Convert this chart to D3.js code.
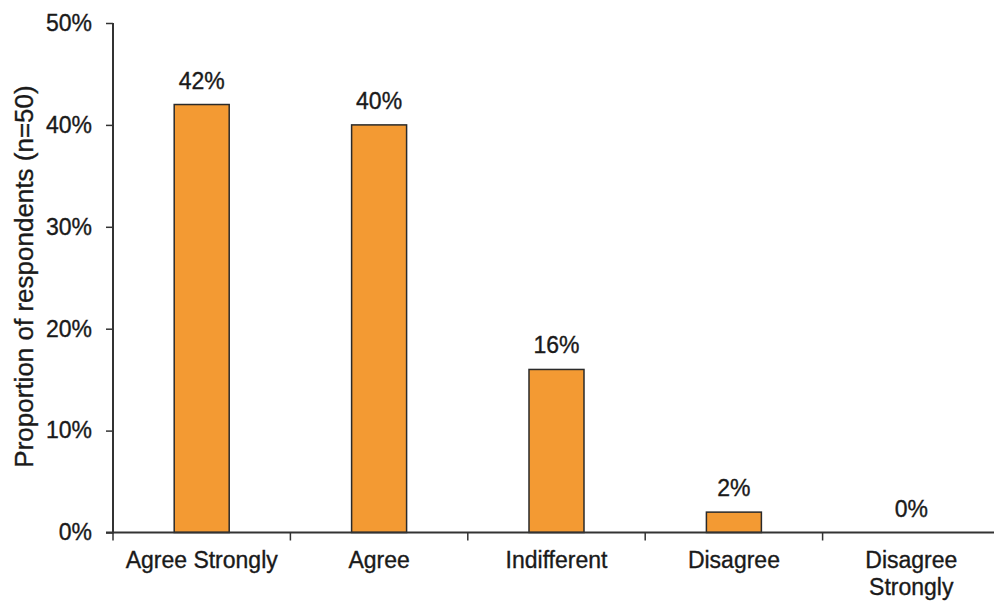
<!DOCTYPE html>
<html>
<head>
<meta charset="utf-8">
<script src="https://cdn.jsdelivr.net/npm/d3@7"></script>
<style>
  html, body { margin: 0; padding: 0; background: #fff; }
  svg { display: block; font-family: "Liberation Sans", Arial, Helvetica, sans-serif; }
  svg text { stroke: #1a1a1a; stroke-width: 0.35px; }
</style>
</head>
<body>
<svg id="chart" width="994" height="601"></svg>
<script>
// Survey responses, share of respondents (%)
const categories = ["Agree Strongly", "Agree", "Indifferent", "Disagree", "Disagree Strongly"];
const categoryLines = [["Agree Strongly"], ["Agree"], ["Indifferent"], ["Disagree"], ["Disagree", "Strongly"]];
const values = [42, 40, 16, 2, 0];
const yTicks = [0, 10, 20, 30, 40, 50];
const yTitle = "Proportion of respondents (n=50)";

const svg = d3.select("#chart");
const plotLeft = 113, plotRight = 1000, plotTop = 23, plotBottom = 532.5;
const ink = "#1a1a1a";
const axisColor = "#333";

const x = d3.scaleBand()
  .domain(categories)
  .range([plotLeft, plotRight])
  .paddingInner(0.69)
  .paddingOuter(0.345);

const y = d3.scaleLinear().domain([0, 50]).range([plotBottom, plotTop]);

const rows = categories.map((c, i) => ({ c, v: values[i] }));

// Bars
svg.append("g").selectAll("rect")
  .data(rows.filter(d => d.v > 0))
  .join("rect")
  .attr("x", d => x(d.c))
  .attr("y", d => y(d.v))
  .attr("width", x.bandwidth())
  .attr("height", d => y(0) - y(d.v))
  .attr("fill", "#F39A33")
  .attr("stroke", "#2a2a2a")
  .attr("stroke-width", 1.5);

// Value labels
svg.append("g").selectAll("text")
  .data(rows)
  .join("text")
  .attr("x", d => x(d.c) + x.bandwidth() / 2)
  .attr("y", d => y(d.v) - 16)
  .attr("text-anchor", "middle")
  .attr("font-size", 23)
  .attr("fill", ink)
  .text(d => d.v + "%");

// Y axis
const yAxis = svg.append("g")
  .attr("transform", `translate(${plotLeft},0)`)
  .call(d3.axisLeft(y).tickValues(yTicks).tickFormat(d => d + "%").tickSize(7).tickPadding(14));
yAxis.select(".domain").attr("stroke", axisColor).attr("stroke-width", 2)
  .attr("d", `M0,${plotTop}V${plotBottom + 1}`);
yAxis.selectAll(".tick line").attr("stroke", axisColor).attr("stroke-width", 1.5);
yAxis.selectAll(".tick text")
  .attr("font-size", 23)
  .attr("fill", ink)
  .attr("font-family", "Liberation Sans, Arial, sans-serif");

// X axis baseline with ticks at category boundaries
const step = x.step();
const boundaries = categories.map(c => x(c) + x.bandwidth() / 2 - step / 2);
const xAxis = svg.append("g");
xAxis.append("line")
  .attr("x1", plotLeft - 7).attr("x2", plotRight)
  .attr("y1", plotBottom).attr("y2", plotBottom)
  .attr("stroke", axisColor).attr("stroke-width", 2);
xAxis.selectAll("line.tick")
  .data(boundaries)
  .join("line")
  .attr("class", "tick")
  .attr("x1", d => d).attr("x2", d => d)
  .attr("y1", plotBottom).attr("y2", plotBottom + 8)
  .attr("stroke", axisColor).attr("stroke-width", 1.5);

// Category labels
const catText = svg.append("g").selectAll("text")
  .data(categories.map((c, i) => ({ c, lines: categoryLines[i] })))
  .join("text")
  .attr("x", d => x(d.c) + x.bandwidth() / 2)
  .attr("y", 568)
  .attr("text-anchor", "middle")
  .attr("font-size", 23)
  .attr("fill", ink);
catText.selectAll("tspan")
  .data(d => d.lines.map(l => ({ l, cx: x(d.c) + x.bandwidth() / 2 })))
  .join("tspan")
  .attr("x", d => d.cx)
  .attr("dy", (d, i) => i === 0 ? 0 : 27)
  .text(d => d.l);

// Y axis title
svg.append("text")
  .attr("transform", `translate(33,${(85 + 468) / 2}) rotate(-90)`)
  .attr("text-anchor", "middle")
  .attr("font-size", 26)
  .attr("fill", ink)
  .text(yTitle);
</script>
</body>
</html>
